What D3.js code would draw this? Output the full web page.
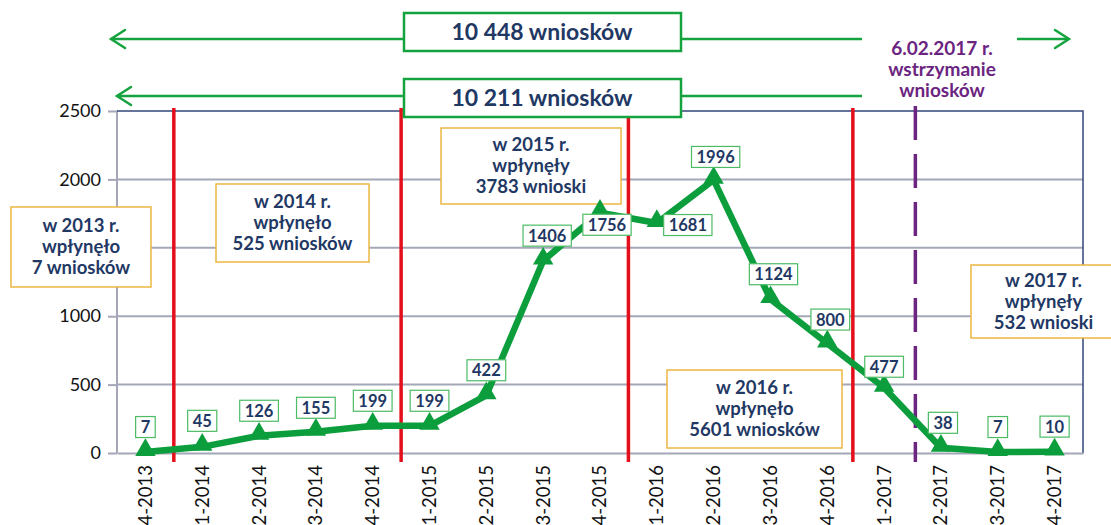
<!DOCTYPE html>
<html>
<head>
<meta charset="utf-8">
<script src="https://cdnjs.cloudflare.com/ajax/libs/d3/7.8.5/d3.min.js"></script>
<style>
  body { margin: 0; background: #fff; }
  text { font-family: Lato, "Open Sans", sans-serif; }
</style>
</head>
<body>
<div id="chart"></div>
<script>
// quarters and number of applications
var quarters = ["4-2013","1-2014","2-2014","3-2014","4-2014","1-2015","2-2015","3-2015","4-2015",
                "1-2016","2-2016","3-2016","4-2016","1-2017","2-2017","3-2017","4-2017"];
var applications = [7, 45, 126, 155, 199, 199, 422, 1406, 1756, 1681, 1996, 1124, 800, 477, 38, 7, 10];
var yTicks = [0, 500, 1000, 1500, 2000, 2500];

// year boundaries (index of first quarter of the new year)
var yearBreaks = [1, 5, 9, 12.95];
var stopDate = 14.05; // 6.02.2017 in band units

// label offsets (layout only) [dx, dy]
var labelOffsets = [[0,-25],[0,-26],[0,-25],[0,-24],[0,-25],[0,-25],[0,-25],[4,-25],
                    [7,12],[31,2],[2,-23],[3,-25],[3,-24],[0,-21],[2,-25],[0,-25],[0,-25]];

// yearly notes
var yearNotes = [
  {lines: ["w 2013 r.", "wpłynęło", "7 wniosków"], box: [11, 207, 140, 80]},
  {lines: ["w 2014 r.", "wpłynęło", "525 wniosków"], box: [216, 184, 153, 78]},
  {lines: ["w 2015 r.", "wpłynęły", "3783 wnioski"], box: [441, 128, 180, 76]},
  {lines: ["w 2016 r.", "wpłynęło", "5601 wniosków"], box: [667, 370, 175, 78]},
  {lines: ["w 2017 r.", "wpłynęły", "532 wnioski"], box: [971, 265, 145, 73]}
];

var width = 1111, height = 525;
var navy = "#1f3864", green = "#0c9e3c";

var svg = d3.select("#chart").append("svg")
    .attr("width", width).attr("height", height);

var x = d3.scaleBand().domain(quarters).range([117, 1083]);
var y = d3.scaleLinear().domain([0, 2500]).range([453, 111]);
var cx = function(i) { return x(quarters[i]) + x.bandwidth() / 2; };
var bx = function(b) { return x.range()[0] + b * x.step(); };

// y axis
svg.append("g")
    .attr("transform", "translate(117,0)")
    .call(d3.axisLeft(y).tickValues(yTicks).tickFormat(d3.format("d")).tickSize(9).tickPadding(7))
    .call(function(g) {
        g.select(".domain").remove();
        g.selectAll(".tick line").attr("stroke", "#a3a7b8").attr("stroke-width", 2);
        g.selectAll(".tick text").attr("font-size", 18).attr("fill", "#111");
    });
// gridlines
svg.append("g").selectAll("line")
    .data(yTicks.filter(function(d) { return d > 0 && d < 2500; }))
    .enter().append("line")
    .attr("x1", 117).attr("x2", 1083)
    .attr("y1", function(d) { return y(d); }).attr("y2", function(d) { return y(d); })
    .attr("stroke", "#a3a7b8").attr("stroke-width", 2);

// frame
svg.append("line").attr("x1", 117).attr("x2", 117).attr("y1", 111).attr("y2", 453)
    .attr("stroke", "#a3a7b8").attr("stroke-width", 2);
svg.append("path").attr("d", "M117,111H1083V453")
    .attr("fill", "none").attr("stroke", "#34457a").attr("stroke-width", 1.5);

// x axis
svg.append("g")
    .attr("transform", "translate(0,453)")
    .call(d3.axisBottom(x).tickSize(0).tickPadding(0))
    .call(function(g) {
        g.select(".domain").attr("stroke", "#a3a7b8").attr("stroke-width", 2);
        g.selectAll(".tick text")
            .attr("font-size", 18.5).attr("fill", "#111")
            .attr("text-anchor", "end")
            .attr("transform", "translate(0,12) rotate(-90)")
            .attr("dy", "0.35em").attr("y", 0).attr("x", 0);
    });

// year boundaries
svg.append("g").selectAll("line").data(yearBreaks).enter().append("line")
    .attr("x1", function(b) { return bx(b); }).attr("x2", function(b) { return bx(b); })
    .attr("y1", 108).attr("y2", 462)
    .attr("stroke", "#e30f1b").attr("stroke-width", 3.5);

// stop date
svg.append("line")
    .attr("x1", bx(stopDate)).attr("x2", bx(stopDate))
    .attr("y1", 106).attr("y2", 462)
    .attr("stroke", "#6b2480").attr("stroke-width", 3.5)
    .attr("stroke-dasharray", "34,14");

// yearly notes
yearNotes.forEach(function(n) {
    var g = svg.append("g");
    g.append("rect")
        .attr("x", n.box[0]).attr("y", n.box[1]).attr("width", n.box[2]).attr("height", n.box[3])
        .attr("fill", "#fff").attr("stroke", "#ebb743").attr("stroke-width", 1.5);
    g.selectAll("text").data(n.lines).enter().append("text")
        .attr("x", n.box[0] + n.box[2] / 2)
        .attr("y", function(d, i) { return n.box[1] + n.box[3] / 2 + (i - 1) * 21; })
        .attr("dy", "0.35em")
        .attr("text-anchor", "middle")
        .attr("font-size", 18.5).attr("font-weight", 700).attr("fill", navy)
        .text(function(d) { return d; });
});

// line
var line = d3.line()
    .x(function(d, i) { return cx(i); })
    .y(function(d) { return y(d); });
svg.append("path").datum(applications)
    .attr("d", line)
    .attr("fill", "none").attr("stroke", green).attr("stroke-width", 6.5)
    .attr("stroke-linejoin", "round");

svg.append("g").selectAll("path").data(applications).enter().append("path")
    .attr("d", d3.symbol(d3.symbolTriangle).size(180))
    .attr("transform", function(d, i) { return "translate(" + cx(i) + "," + (y(d) - 2) + ")"; })
    .attr("fill", green);

// value labels
var lbl = svg.append("g").selectAll("g").data(applications).enter().append("g")
    .attr("transform", function(d, i) {
        return "translate(" + (cx(i) + labelOffsets[i][0]) + "," + (y(d) + labelOffsets[i][1]) + ")";
    });
lbl.append("text")
    .attr("text-anchor", "middle").attr("dy", "0.36em")
    .attr("font-size", 16.5).attr("font-weight", 700).attr("fill", navy)
    .text(function(d) { return d; });
lbl.each(function() {
    var g = d3.select(this);
    var w = g.select("text").node().getComputedTextLength();
    g.insert("rect", "text")
        .attr("x", -w / 2 - 5).attr("y", -10.5).attr("width", w + 10).attr("height", 21)
        .attr("fill", "#fff").attr("stroke", "#4cbb64").attr("stroke-width", 1.2);
});

// top arrows
function arrowHead(xp, yp, dir) {
    svg.append("path")
        .attr("d", "M" + (xp + dir * 14) + "," + (yp - 9) + "L" + xp + "," + yp + "L" + (xp + dir * 14) + "," + (yp + 9))
        .attr("fill", "none").attr("stroke", "#14a33e").attr("stroke-width", 2.5)
        .attr("stroke-linecap", "round").attr("stroke-linejoin", "miter");
}
function hline(x1, x2, yp) {
    svg.append("line").attr("x1", x1).attr("x2", x2).attr("y1", yp).attr("y2", yp)
        .attr("stroke", "#14a33e").attr("stroke-width", 2.5);
}
hline(111, 862, 39); hline(1017, 1068, 39);
arrowHead(111, 39, 1); arrowHead(1069, 39, -1);
hline(117, 862, 96);
arrowHead(117, 96, 1);

var totals = [{t: "10 448 wniosków", y: 13}, {t: "10 211 wniosków", y: 79}];
totals.forEach(function(d) {
    svg.append("rect").attr("x", 404).attr("y", d.y).attr("width", 277).attr("height", 38)
        .attr("fill", "#fff").attr("stroke", "#14a33e").attr("stroke-width", 2.5);
    svg.append("text").attr("x", 542).attr("y", d.y + 19).attr("dy", "0.35em")
        .attr("text-anchor", "middle").attr("font-size", 23).attr("font-weight", 700)
        .attr("fill", navy).text(d.t);
});

// stop note
var stopLines = ["6.02.2017 r.", "wstrzymanie", "wniosków"];
svg.append("g").selectAll("text").data(stopLines).enter().append("text")
    .attr("x", 942).attr("y", function(d, i) { return 48 + i * 21; })
    .attr("dy", "0.35em").attr("text-anchor", "middle")
    .attr("font-size", 19).attr("font-weight", 700).attr("fill", "#6b2480")
    .text(function(d) { return d; });
</script>
</body>
</html>
